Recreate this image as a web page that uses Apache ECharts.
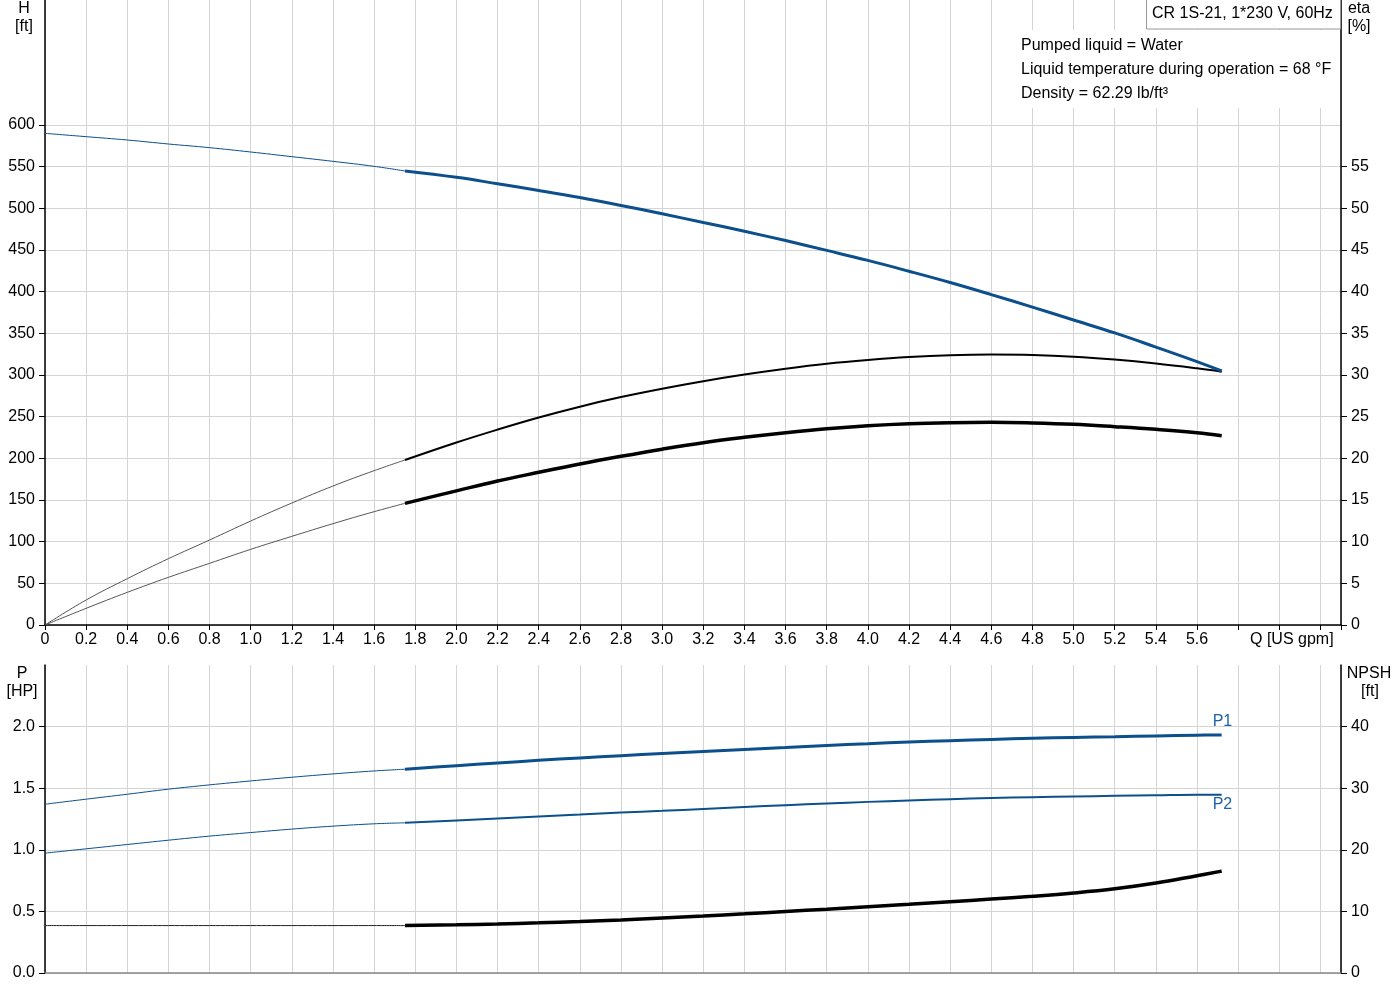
<!DOCTYPE html>
<html>
<head>
<meta charset="utf-8">
<script src="https://cdn.jsdelivr.net/npm/echarts@6/dist/echarts.min.js"></script>
<style>
html,body{margin:0;padding:0;background:#fff;}
#chart{width:1400px;height:1000px;}
</style>
</head>
<body>
<div id="chart"></div>
<script>
// ---- data ----
const qThin  = [0, 0.2, 0.4, 0.6, 0.8, 1.0, 1.2, 1.4, 1.6, 1.75];
const qThick = [1.75, 2.0, 2.2, 2.4, 2.6, 2.8, 3.0, 3.2, 3.4, 3.6, 3.8, 4.0, 4.2, 4.4, 4.6, 4.8, 5.0, 5.2, 5.4, 5.6, 5.72];

const headThin  = [590, 586, 582, 577.2, 572.8, 567.6, 562, 556.4, 550.4, 544.8];
const headThick = [544.8, 537.2, 529.5, 521.5, 513, 503.5, 493.5, 483, 472.5, 461.3, 449.5, 437.5, 424.5, 411, 396.5, 381.5, 366, 350.5, 333.5, 316, 304.8];

const etaPumpThin  = [0, 3.0, 5.56, 7.96, 10.2, 12.48, 14.64, 16.68, 18.52, 19.8];
const etaPumpThick = [19.8, 21.9, 23.45, 24.9, 26.2, 27.35, 28.35, 29.25, 30.05, 30.75, 31.35, 31.8, 32.15, 32.37, 32.45, 32.4, 32.2, 31.85, 31.38, 30.8, 30.4];

const etaTotalThin  = [0, 2.0, 3.92, 5.72, 7.4, 9.08, 10.64, 12.16, 13.6, 14.6];
const etaTotalThick = [14.6, 16.1, 17.28, 18.32, 19.32, 20.24, 21.1, 21.88, 22.52, 23.08, 23.56, 23.92, 24.16, 24.28, 24.32, 24.24, 24.08, 23.8, 23.48, 23.08, 22.72];

const p1Thin  = [1.370, 1.411, 1.451, 1.492, 1.527, 1.559, 1.589, 1.616, 1.640, 1.654];
const p1Thick = [1.654, 1.683, 1.705, 1.726, 1.746, 1.764, 1.781, 1.798, 1.815, 1.831, 1.847, 1.861, 1.875, 1.886, 1.896, 1.905, 1.912, 1.918, 1.924, 1.930, 1.932];

const p2Thin  = [0.973, 1.008, 1.043, 1.078, 1.111, 1.140, 1.168, 1.192, 1.211, 1.219];
const p2Thick = [1.219, 1.238, 1.254, 1.270, 1.286, 1.302, 1.316, 1.332, 1.347, 1.362, 1.376, 1.389, 1.400, 1.411, 1.420, 1.427, 1.433, 1.438, 1.442, 1.446, 1.446];

const npshThin  = [7.7, 7.7, 7.7, 7.7, 7.7, 7.7, 7.7, 7.7, 7.7, 7.7];
const npshThick = [7.7, 7.82, 7.96, 8.14, 8.36, 8.62, 8.92, 9.24, 9.6, 9.98, 10.36, 10.76, 11.16, 11.58, 12.0, 12.45, 12.98, 13.66, 14.6, 15.8, 16.54];

const hTicks    = [0, 50, 100, 150, 200, 250, 300, 350, 400, 450, 500, 550, 600];
const etaTicks  = [0, 5, 10, 15, 20, 25, 30, 35, 40, 45, 50, 55];
const pTicks    = [0, 0.5, 1.0, 1.5, 2.0];
const npshTicks = [0, 10, 20, 30, 40];

const titleText = 'CR 1S-21, 1*230 V, 60Hz';
const infoLines = ['Pumped liquid = Water', 'Liquid temperature during operation = 68 °F', 'Density = 62.29 lb/ft³'];

// ---- helpers ----
const FONT = 'Liberation Sans, Arial, sans-serif';
const BLUE = '#0b4f8c';
const GRID = '#d4d4d4';
function pair(xs, ys){ return xs.map((x,i)=>[x, ys[i]]); }
function line(name, xi, yi, xs, ys, color, width, extra){
  return Object.assign({
    name, type:'line', xAxisIndex:xi, yAxisIndex:yi,
    data: pair(xs, ys), showSymbol:false, symbol:'none',
    smooth:0.4, silent:true,
    lineStyle:{color, width}
  }, extra||{});
}
function txt(text, x, y, align, extra){
  return Object.assign({
    type:'text', z:100,
    style:{text, x, y, font:'16px '+FONT, fill:'#000',
      align:align||'center', verticalAlign:'middle',
      textAlign:align||'center', textVerticalAlign:'middle'}
  }, extra||{});
}

const xBase = {
  type:'value', min:0, max:6.3, interval:0.2,
  splitLine:{show:true, lineStyle:{color:GRID, width:1}}
};
const labelStyle = {color:'#000', fontSize:16, fontFamily:FONT};
function yAx(grid, pos, max, interval, ticks, fmt, split){
  return {
    gridIndex:grid, type:'value', position:pos, min:0, max, interval,
    axisLine:{show:true, lineStyle:{color:'#000', width:1.5}},
    axisTick:{show:true, length:6, lineStyle:{color:'#000'}, customValues:ticks},
    splitLine:{show:split, lineStyle:{color:GRID}},
    axisLabel:Object.assign({}, labelStyle, {margin:10, customValues:ticks, formatter:fmt})
  };
}

const option = {
  animation:false,
  backgroundColor:'#fff',
  grid:[
    {left:45, right:59, top:0, height:625},
    {left:45, right:59, top:665, height:308}
  ],
  xAxis:[
    Object.assign({}, xBase, {
      gridIndex:0,
      axisLine:{show:true, onZero:false, lineStyle:{color:'#000', width:1.5}},
      axisTick:{show:true, length:5, lineStyle:{color:'#000'}},
      axisLabel:Object.assign({}, labelStyle, {margin:7,
        formatter:v => v > 5.65 ? '' : (v === 0 ? '0' : v.toFixed(1))})
    }),
    Object.assign({}, xBase, {
      gridIndex:1,
      axisLine:{show:true, onZero:false, lineStyle:{color:'#888', width:1.5}},
      axisTick:{show:false},
      axisLabel:{show:false}
    })
  ],
  yAxis:[
    yAx(0, 'left', 750, 50, hTicks, v => String(v), true),
    yAx(0, 'right', 75, 5, etaTicks, v => String(v), false),
    yAx(1, 'left', 2.5, 0.5, pTicks, v => v.toFixed(1), true),
    yAx(1, 'right', 50, 10, npshTicks, v => String(v), false)
  ],
  series:[
    line('eta pump thin', 0, 1, qThin, etaPumpThin, '#555', 1),
    line('eta pump', 0, 1, qThick, etaPumpThick, '#000', 2),
    line('eta total thin', 0, 1, qThin, etaTotalThin, '#555', 1),
    line('eta total', 0, 1, qThick, etaTotalThick, '#000', 3.5),
    line('H thin', 0, 0, qThin, headThin, BLUE, 1),
    line('H', 0, 0, qThick, headThick, BLUE, 3),
    line('P1 thin', 1, 2, qThin, p1Thin, BLUE, 1),
    line('P1', 1, 2, qThick, p1Thick, BLUE, 3, {
      endLabel:{show:true, formatter:'P1', color:'#1f62a8', fontSize:16, fontFamily:FONT, offset:[-17,-13]}
    }),
    line('P2 thin', 1, 2, qThin, p2Thin, BLUE, 1),
    line('P2', 1, 2, qThick, p2Thick, BLUE, 2, {
      endLabel:{show:true, formatter:'P2', color:'#1f62a8', fontSize:16, fontFamily:FONT, offset:[-17,10]}
    }),
    line('NPSH thin', 1, 3, qThin, npshThin, '#222', 1),
    line('NPSH', 1, 3, qThick, npshThick, '#000', 3.5)
  ],
  graphic:[
    {type:'rect', z:99, shape:{x:1013, y:30, width:327, height:78}, style:{fill:'#fff'}},
    {type:'rect', z:99, shape:{x:1146.5, y:-1, width:194, height:30}, style:{fill:'#fff', stroke:'#999', lineWidth:1}},
    txt(titleText, 1152, 14, 'left'),
    txt(infoLines[0], 1021, 46, 'left'),
    txt(infoLines[1], 1021, 70, 'left'),
    txt(infoLines[2], 1021, 94, 'left'),
    txt('H', 24, 9), txt('[ft]', 24, 27),
    txt('eta', 1359, 9), txt('[%]', 1359, 27),
    txt('P', 22, 674), txt('[HP]', 22, 692),
    txt('NPSH', 1369, 674), txt('[ft]', 1370, 692),
    txt('Q [US gpm]', 1250, 640, 'left')
  ]
};

const chart = echarts.init(document.getElementById('chart'), null, {renderer:'canvas'});
chart.setOption(option);
</script>
</body>
</html>
